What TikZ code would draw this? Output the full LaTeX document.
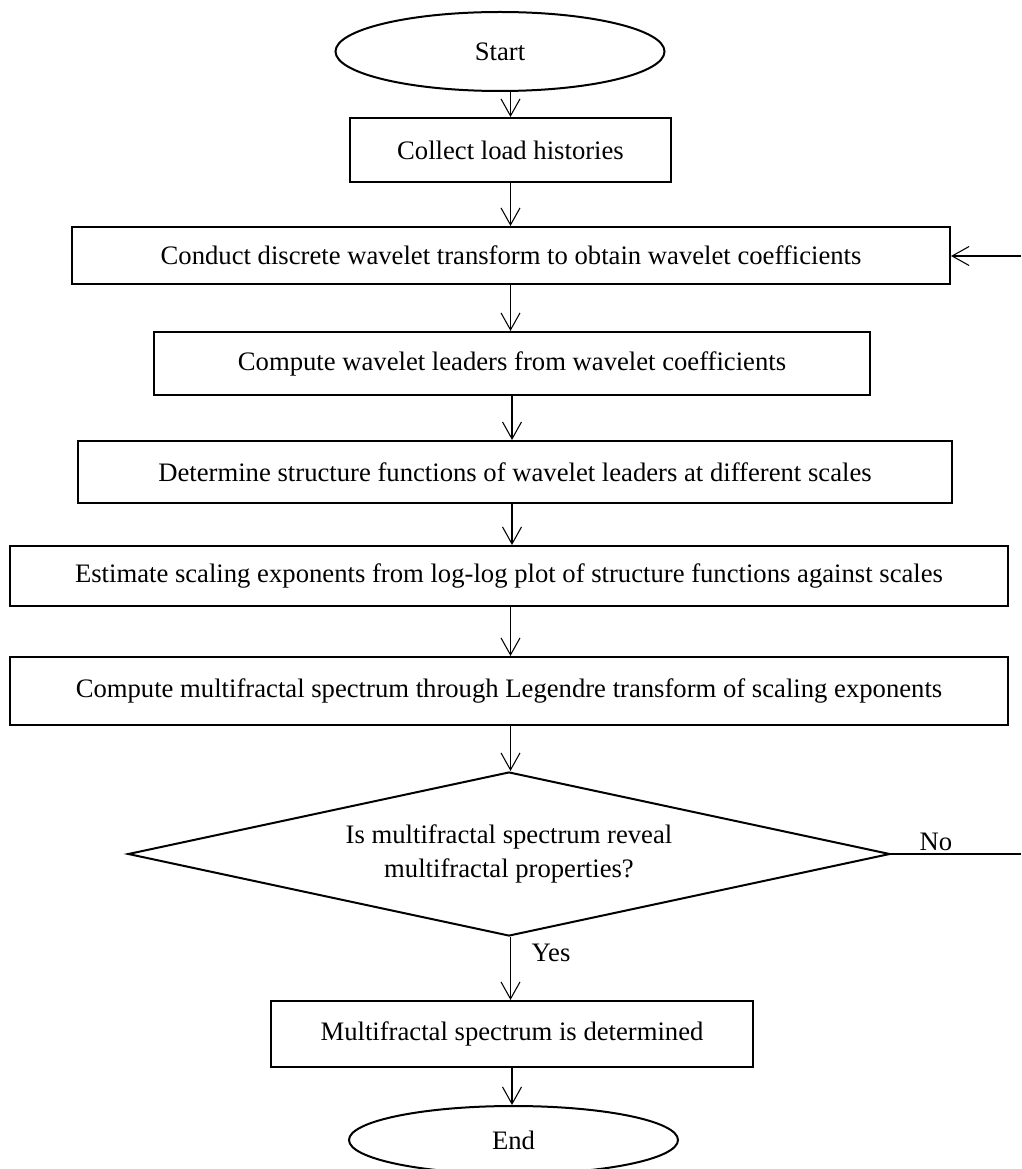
\documentclass[tikz,border=0pt]{standalone}
\usepackage{fontspec}
\setmainfont{Liberation Serif}
\usetikzlibrary{shapes.geometric,arrows.meta}
\begin{document}
\begin{tikzpicture}[x=0.75pt,y=-0.75pt,
  every node/.style={font=\fontsize{20}{24}\selectfont},
  boxdim/.style 2 args={minimum width=#1*0.75pt, minimum height=#2*0.75pt},
  stepbox/.style={draw, line width=1.5pt, rectangle, inner sep=0pt, align=center},
  terminal/.style={draw, line width=1.5pt, ellipse, inner sep=0pt},
  decision/.style={draw, line width=1.5pt, diamond, aspect=4.6, inner sep=0pt,
    align=center, font=\fontsize{20}{26}\selectfont},
  flow/.style={line width=0.8pt, -{Straight Barb[length=12.75pt,width=14.25pt]}},
  plain/.style={line width=0.8pt},
]
\useasboundingbox (0,0) rectangle (1021,1169);

% terminals, process steps and the decision
\node[terminal, boxdim={329}{79}] (start) at (500,51.5) {Start};
\node[stepbox, boxdim={321}{64}] (b1) at (510.5,150) {Collect load histories};
\node[stepbox, boxdim={878}{57}] (b2) at (511,255.5)
  {Conduct discrete wavelet transform to obtain wavelet coefficients};
\node[stepbox, boxdim={716}{63}] (b3) at (512,363.5)
  {Compute wavelet leaders from wavelet coefficients};
\node[stepbox, boxdim={874}{62}] (b4) at (515,472)
  {Determine structure functions of wavelet leaders at different scales};
\node[stepbox, boxdim={998}{60}] (b5) at (509,576)
  {Estimate scaling exponents from log-log plot of structure functions against scales};
\node[stepbox, boxdim={998}{68}] (b6) at (509,691)
  {Compute multifractal spectrum through Legendre transform of scaling exponents};
\node[decision, boxdim={762}{164}] (dec) at (509,854)
  {Is multifractal spectrum reveal\\multifractal properties?};
\node[stepbox, boxdim={482}{66}] (b7) at (512,1034) {Multifractal spectrum is determined};
\node[terminal, boxdim={329}{68}] (end) at (513.5,1140) {End};

% branch labels
\node (yes) at (551,953) {Yes};
\node (no) at (936,842) {No};

% loose ends of the feedback loop at the right margin
\coordinate (fbout) at (1021,854);
\coordinate (fbin) at (1021,256);

% main flow
\draw[flow] (b1.north |- start.south) -- (b1.north);
\draw[flow] (b1.south) -- (b1.south |- b2.north);
\draw[flow] (b1.south |- b2.south) -- (b1.south |- b3.north);
\draw[flow] (b3.south) -- (b3.south |- b4.north);
\draw[flow] (b3.south |- b4.south) -- (b3.south |- b5.north);
\draw[flow] (b1.south |- b5.south) -- (b1.south |- b6.north);
\draw[flow] (b1.south |- b6.south) -- (b1.south |- dec.north);
\draw[flow] (b1.south |- dec.south) -- (b1.south |- b7.north);
\draw[flow] (b7.south) -- (b7.south |- end.north);

% feedback
\draw[plain] (dec.east) -- (fbout);
\draw[flow] (fbin) -- (fbin -| b2.east);
\end{tikzpicture}
\end{document}
